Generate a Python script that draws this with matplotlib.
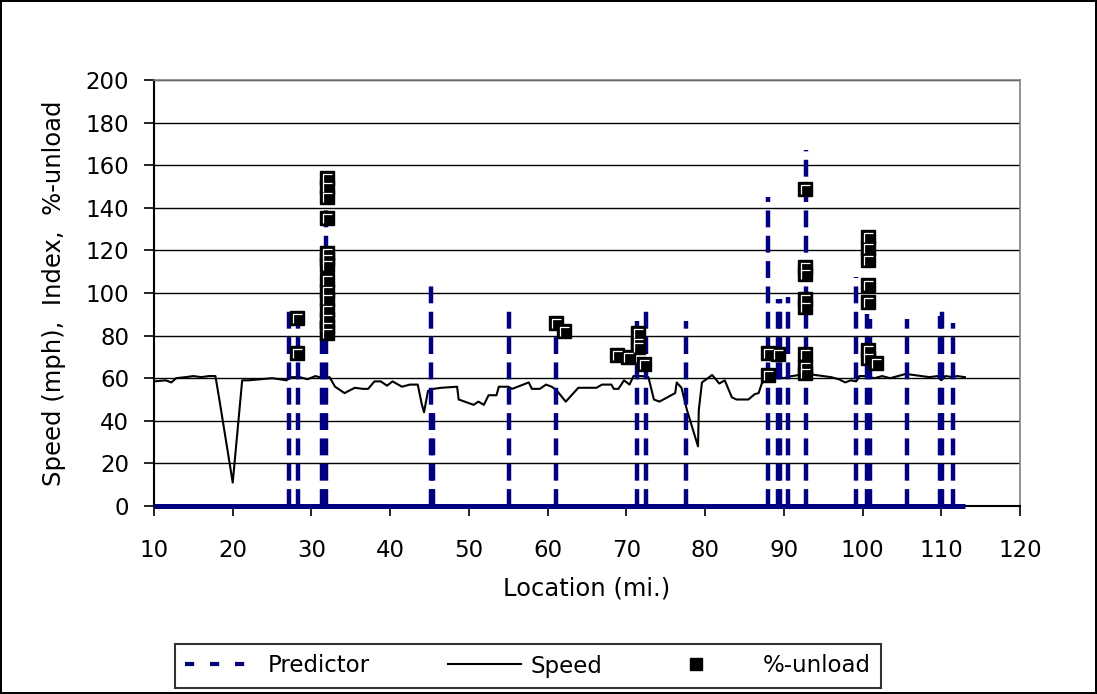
import matplotlib.pyplot as plt
from matplotlib.lines import Line2D
from matplotlib.path import Path
from matplotlib.legend_handler import HandlerTuple

# speed along the route (mph)
speed_loc = [10.0, 11.5, 12.2, 12.8, 14.0, 15.0, 16.0, 17.0, 17.8, 18.3, 20.0, 21.2,
             22.0, 23.5, 25.0, 26.0, 26.8, 27.5, 28.5, 29.5, 30.5, 31.5, 32.3, 33.0,
             34.2, 35.5, 36.5, 37.2, 38.0, 38.8, 39.6, 40.3, 41.5, 42.5, 43.5, 44.0,
             44.3, 44.8, 45.5, 46.5, 48.5, 48.7, 50.6, 51.2, 51.9, 52.5, 53.5, 53.8,
             55.0, 55.5, 56.2, 57.6, 58.0, 59.0, 59.8, 60.5, 61.1, 62.3, 63.9, 65.0,
             66.2, 66.9, 68.1, 68.4, 69.0, 69.7, 70.4, 70.9, 72.0, 72.8, 73.5, 74.2,
             76.2, 76.4, 77.0, 77.7, 79.1, 79.2, 79.6, 80.9, 81.8, 82.5, 83.4, 84.0,
             85.5, 86.3, 86.8, 87.2, 88.1, 89.0, 90.0, 91.0, 92.0, 93.0, 94.0, 95.0,
             96.0, 97.0, 97.8, 98.5, 99.2, 99.6, 100.5, 101.5, 102.5, 103.5, 104.5,
             105.5, 106.5, 107.5, 108.5, 109.5, 110.0, 110.5, 111.5, 112.0, 113.0]
speed = [58.5, 59, 58, 60, 60.5, 61, 60.5, 61, 61, 50, 11, 59,
         59, 59.5, 60, 59.5, 59, 60.5, 60.5, 59.5, 61, 60, 60.5, 56,
         53, 55.5, 55, 55, 58.5, 58.5, 56.5, 58.5, 56, 57, 57, 48,
         44, 54, 55, 55.5, 56, 50, 47.5, 49, 47.5, 52, 52, 56,
         56, 55, 56, 58, 55, 55, 57, 56, 54.5, 49, 55.5, 55.5,
         55.5, 57, 57, 55, 55, 59, 57, 61, 61, 60.5, 50, 49,
         53, 58, 55.5, 45, 28, 45, 58, 61.5, 57.5, 59, 51, 50,
         50, 52.5, 53, 57.5, 60.5, 61, 60, 61, 61.5, 62, 61.5, 61,
         60.5, 59.5, 58, 59, 58.5, 61, 61, 60, 61, 60, 61,
         62, 61.5, 61, 60.5, 61, 59, 61, 60.5, 61, 60.5]

# predictor index spikes
pred_loc = [27.1, 28.3, 31.3, 31.9, 45.2, 45.5, 55.1, 61.1, 71.4, 72.5, 77.6, 88.0,
            89.3, 89.5, 90.5, 92.8, 99.2, 100.6, 100.9, 105.7, 109.8, 110.1, 111.5]
pred_val = [92, 88, 87, 140, 107, 45, 93.5, 85, 87, 93, 87, 145,
            97, 97, 98, 167, 107.5, 90, 88, 88, 89, 92, 86]

# %-unload points
unload_loc = [28.2, 28.2,
              32.0, 32.0, 32.0, 32.0, 32.0, 32.0, 32.0, 32.0, 32.0, 32.0, 32.0, 32.0, 32.0, 32.0,
              61.0, 62.1, 68.8, 70.2, 71.5, 71.5, 71.5, 72.2,
              88.0, 88.0, 89.3,
              92.7, 92.7, 92.7, 92.7, 92.7, 92.7, 92.7, 92.7,
              100.7, 100.7, 100.7, 100.7, 100.7, 100.7, 100.7, 101.7]
unload = [88.4, 72,
          154, 150, 145, 135, 119, 116, 113, 106, 101, 97, 92, 88, 84, 81,
          86, 82.3, 70.9, 70, 81, 76.5, 74.8, 66.7,
          72, 61.5, 71.4,
          148.7, 112.4, 109, 97, 93.6, 71.4, 65.4, 62.6,
          126.4, 121, 115.5, 103.7, 95.9, 73.2, 69.3, 67]

plt.rcParams['font.family'] = ['DejaVu Sans']
navy = '#000080'
dash = (0, (3.8, 1.9))

fig = plt.figure(figsize=(10.97, 6.94), dpi=100)
fig.patch.set_edgecolor('black')
fig.patch.set_linewidth(1.5)
ax = fig.add_axes([154 / 1097, 1 - 506 / 694, 866 / 1097, 426 / 694])

# grid
ax.set_axisbelow(True)
ax.yaxis.grid(True, color='black', linewidth=1.0)

# speed
ax.plot(speed_loc, speed, color='black', linewidth=1.5, zorder=3)

# predictor: zero level plus spikes
ax.hlines(0, speed_loc[0], speed_loc[-1], colors=navy, linewidth=3.6, zorder=4, clip_on=False)
ax.vlines(pred_loc, 0, pred_val, colors=navy, linewidth=3.2, linestyles=[dash], zorder=4)

# %-unload markers with white highlight
hl = Path([(-0.32, -0.38), (-0.32, 0.32), (0.38, 0.32)], [Path.MOVETO, Path.LINETO, Path.LINETO])
ax.plot(unload_loc, unload, linestyle='none', marker='s', markersize=10,
        markerfacecolor='black', markeredgecolor='black', zorder=5)
ax.plot(unload_loc, unload, linestyle='none', marker=hl, markersize=7.4,
        markerfacecolor='none', markeredgecolor='white', markeredgewidth=0.9, zorder=6)

ax.set_xlim(10, 120)
ax.set_ylim(0, 200)
ax.set_xticks(range(10, 121, 10))
ax.set_yticks(range(0, 201, 20))
ax.tick_params(axis='both', direction='out', length=7, width=1.2, labelsize=16.5, colors='black')
ax.tick_params(axis='x', pad=17)
ax.tick_params(axis='y', pad=11)

for s in ['top', 'right']:
    ax.spines[s].set_color('#808080')
    ax.spines[s].set_linewidth(1.2)
for s in ['left', 'bottom']:
    ax.spines[s].set_color('black')
    ax.spines[s].set_linewidth(1.5)

ax.set_xlabel('Location (mi.)', fontsize=17.5, labelpad=10)
ax.set_ylabel('Speed (mph),  Index,  %-unload', fontsize=17.5, labelpad=14)

# legend
h_pred = Line2D([], [], color=navy, linewidth=3, linestyle=(0, (2.2, 3.8)))
h_speed = Line2D([], [], color='black', linewidth=1.5)
h_sq = Line2D([], [], linestyle='none', marker='s', markersize=8,
              markerfacecolor='black', markeredgecolor='black')
h_hl = Line2D([], [], linestyle='none', marker=hl, markersize=5.8,
              markerfacecolor='none', markeredgecolor='white', markeredgewidth=0.8)
leg = fig.legend([h_pred, h_speed, (h_sq, h_hl)], ['Predictor', 'Speed', '%-unload'],
                 loc='center', bbox_to_anchor=(528 / 1097, 1 - 666 / 694), ncol=3,
                 fontsize=16.5, handlelength=3.2, handletextpad=0.4, columnspacing=3.4,
                 frameon=True, fancybox=False, edgecolor='black', borderpad=0.45,
                 handler_map={tuple: HandlerTuple(ndivide=None)})
leg.get_frame().set_linewidth(1.5)

fig.savefig('out.png', dpi=100, edgecolor=fig.get_edgecolor())
